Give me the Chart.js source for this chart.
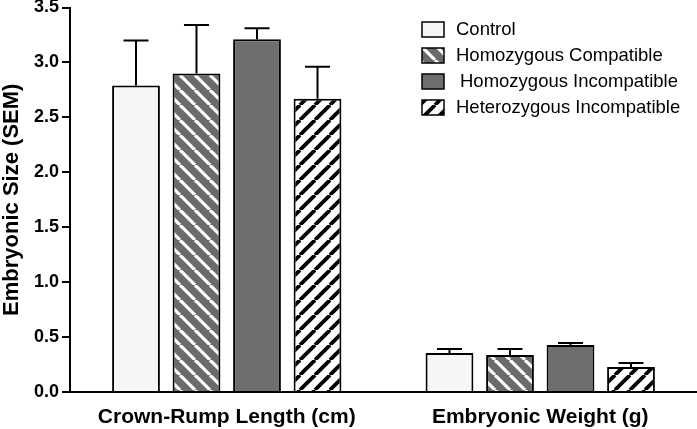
<!DOCTYPE html>
<html>
<head>
<meta charset="utf-8">
<script src="https://cdn.jsdelivr.net/npm/chart.js@4"></script>
<style>
  html, body { margin: 0; padding: 0; background: #ffffff; }
  #wrap { width: 697px; height: 429px; position: relative; }
</style>
</head>
<body>
<div id="wrap"><canvas id="grafica"></canvas></div>
<script>
const categorias = ["Crown-Rump Length (cm)", "Embryonic Weight (g)"];
const series = ["Control", "Homozygous Compatible", "Homozygous Incompatible", "Heterozygous Incompatible"];

const control = [2.79, 0.355];
const controlErr = [0.41, 0.036];
const homCompatible = [2.90, 0.336];
const homCompatibleErr = [0.44, 0.055];
const homIncompatible = [3.21, 0.427];
const homIncompatibleErr = [0.10, 0.018];
const hetIncompatible = [2.67, 0.227];
const hetIncompatibleErr = [0.29, 0.037];

const yTicks = [0, 0.5, 1, 1.5, 2, 2.5, 3, 3.5];

// rayas diagonales
function crearRayas(fondo, linea, ancho, invertida) {
  const c = document.createElement("canvas");
  const t = 15;
  c.width = t;
  c.height = t;
  const ctx = c.getContext("2d");
  ctx.fillStyle = fondo;
  ctx.fillRect(0, 0, t, t);
  ctx.strokeStyle = linea;
  ctx.lineWidth = ancho;
  for (let k = -1; k <= 1; k++) {
    ctx.beginPath();
    if (invertida) {
      ctx.moveTo(k * t, t);
      ctx.lineTo(k * t + t, 0);
    } else {
      ctx.moveTo(k * t, 0);
      ctx.lineTo(k * t + t, t);
    }
    ctx.stroke();
  }
  return c.getContext("2d").createPattern(c, "repeat");
}

const colores = [
  "#f6f6f6",
  crearRayas("#6b6b6b", "#ffffff", 3.2, false),
  "#6e6e6e",
  crearRayas("#ffffff", "#000000", 3.8, true),
];

const valores = [control, homCompatible, homIncompatible, hetIncompatible];
const errores = [controlErr, homCompatibleErr, homIncompatibleErr, hetIncompatibleErr];

const barrasError = {
  id: "barrasError",
  afterDatasetsDraw(chart) {
    const ctx = chart.ctx;
    const y = chart.scales.y;
    ctx.save();
    ctx.strokeStyle = "#000000";
    ctx.lineWidth = 2;
    chart.data.datasets.forEach((ds, i) => {
      const meta = chart.getDatasetMeta(i);
      meta.data.forEach((bar, j) => {
        const arriba = y.getPixelForValue(ds.data[j] + ds.errores[j]);
        ctx.beginPath();
        ctx.moveTo(bar.x, bar.y);
        ctx.lineTo(bar.x, arriba);
        ctx.moveTo(bar.x - 12.5, arriba);
        ctx.lineTo(bar.x + 12.5, arriba);
        ctx.stroke();
      });
    });
    ctx.restore();
  },
};

const leyenda = {
  id: "leyenda",
  afterDraw(chart) {
    const ctx = chart.ctx;
    ctx.save();
    ctx.font = "18.5px 'Liberation Sans', Arial, sans-serif";
    ctx.textBaseline = "middle";
    chart.data.datasets.forEach((ds, i) => {
      const yc = 29.5 + i * 26;
      ctx.fillStyle = ds.backgroundColor;
      ctx.fillRect(422, yc - 7.5, 22, 15);
      ctx.strokeStyle = "#000000";
      ctx.lineWidth = 1.5;
      ctx.strokeRect(422, yc - 7.5, 22, 15);
      ctx.fillStyle = "#000000";
      ctx.fillText(ds.label, i === 2 ? 460 : 456, yc);
    });
    ctx.restore();
  },
};

new Chart(document.getElementById("grafica"), {
  type: "bar",
  data: {
    labels: categorias,
    datasets: series.map((nombre, i) => ({
      label: nombre,
      data: valores[i],
      errores: errores[i],
      backgroundColor: colores[i],
      borderColor: "#000000",
      borderWidth: 2,
      categoryPercentage: 0.772,
      barPercentage: 0.79,
    })),
  },
  options: {
    responsive: true,
    maintainAspectRatio: false,
    animation: false,
    devicePixelRatio: 1,
    layout: { padding: { top: 0, right: 0, left: 0, bottom: 0 } },
    plugins: {
      legend: { display: false },
      tooltip: { enabled: false },
    },
    scales: {
      x: {
        grid: { display: false },
        border: { display: true, color: "#000000", width: 2 },
        ticks: {
          color: "#000000",
          padding: 5,
          font: { family: "'Liberation Sans', Arial, sans-serif", size: 21, weight: "bold" },
        },
        afterFit: (s) => { s.height = 37; },
      },
      y: {
        min: 0,
        max: 3.5,
        afterBuildTicks: (s) => { s.ticks = yTicks.map((v) => ({ value: v })); },
        grid: {
          display: true,
          drawOnChartArea: false,
          drawTicks: true,
          tickLength: 8,
          color: "#000000",
          lineWidth: 2,
        },
        border: { display: true, color: "#000000", width: 2 },
        ticks: {
          color: "#000000",
          padding: 3,
          callback: (v) => Number(v).toFixed(1),
          font: { family: "'Liberation Sans', Arial, sans-serif", size: 18, weight: "bold", lineHeight: 0.5 },
        },
        title: {
          display: true,
          text: "Embryonic Size (SEM)",
          color: "#000000",
          padding: 0,
          font: { family: "'Liberation Sans', Arial, sans-serif", size: 22, weight: "bold", lineHeight: 1.05 },
        },
        afterFit: (s) => { s.width = 70; },
      },
    },
  },
  plugins: [barrasError, leyenda],
});
</script>
</body>
</html>
